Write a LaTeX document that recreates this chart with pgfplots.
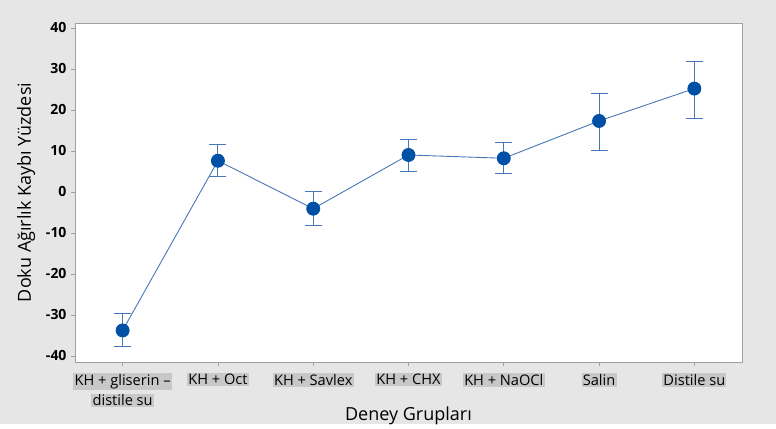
\documentclass[border=0pt]{standalone}
\usepackage{pgfplots}
\pgfplotsset{compat=1.18}
\usepackage{pgfplotstable}
\usepackage{fontspec}
\setmainfont{Open Sans}
\definecolor{bg}{RGB}{230,230,230}
\definecolor{lblbg}{RGB}{200,200,200}
\definecolor{frame}{RGB}{160,160,160}
\definecolor{ln}{RGB}{70,120,185}
\definecolor{mk}{RGB}{0,80,165}
\pgfplotstableread{
x y ep em
0 -33.8 4.2 3.9
1 7.6 3.9 3.9
2 -4.1 4.1 4.0
3 9.0 3.8 4.0
4 8.2 3.9 3.8
5 17.3 6.6 7.1
6 25.2 6.7 7.3
}\datatab
\newcommand{\lb}[1]{{\setlength{\fboxsep}{1.2pt}\colorbox{lblbg}{#1}}}
\begin{document}
\begin{tikzpicture}
\fill[bg] (0,0) rectangle (776bp,424bp);
\begin{axis}[
  at={(75bp,62bp)}, anchor=south west,
  scale only axis, width=667bp, height=339bp,
  xmin=-0.5, xmax=6.5, ymin=-41.5, ymax=41.2,
  axis background/.style={fill=white},
  axis line style={frame},
  xtick={0,...,6},
  xticklabels={{\lb{KH + gliserin –}\\[1.5pt]\lb{distile su}},\lb{KH + Oct},\lb{KH + Savlex},\lb{KH + CHX},\lb{KH + NaOCl},\lb{Salin},\lb{Distile su}},
  xticklabel style={align=center, font=\fontsize{14.6bp}{19bp}\selectfont, yshift=-3.5bp, anchor=north},
  ytick={-40,-30,...,40},
  yticklabel style={font=\fontsize{14bp}{15bp}\selectfont\bfseries, xshift=-1bp},
  /pgf/number format/assume math mode=true,
  tick align=outside, tick pos=left,
  major tick length=4bp,
  tick style={frame, line width=0.6pt},
  xlabel={Deney Grupları},
  ylabel={Doku Ağırlık Kaybı Yüzdesi},
  label style={font=\fontsize{18bp}{22bp}\selectfont},
  xlabel style={yshift=7bp},
  ylabel style={yshift=4bp},
]
\addplot[color=ln, line width=0.9pt, mark=*, mark size=6.5bp,
  mark options={fill=mk, draw=mk},
  error bars/.cd, y dir=both, y explicit,
  error bar style={color=ln, line width=1pt},
  error mark options={rotate=90, mark size=8.5bp, color=ln, line width=1pt}]
  table[x=x, y=y, y error plus=ep, y error minus=em] {\datatab};
\end{axis}
\end{tikzpicture}
\end{document}
